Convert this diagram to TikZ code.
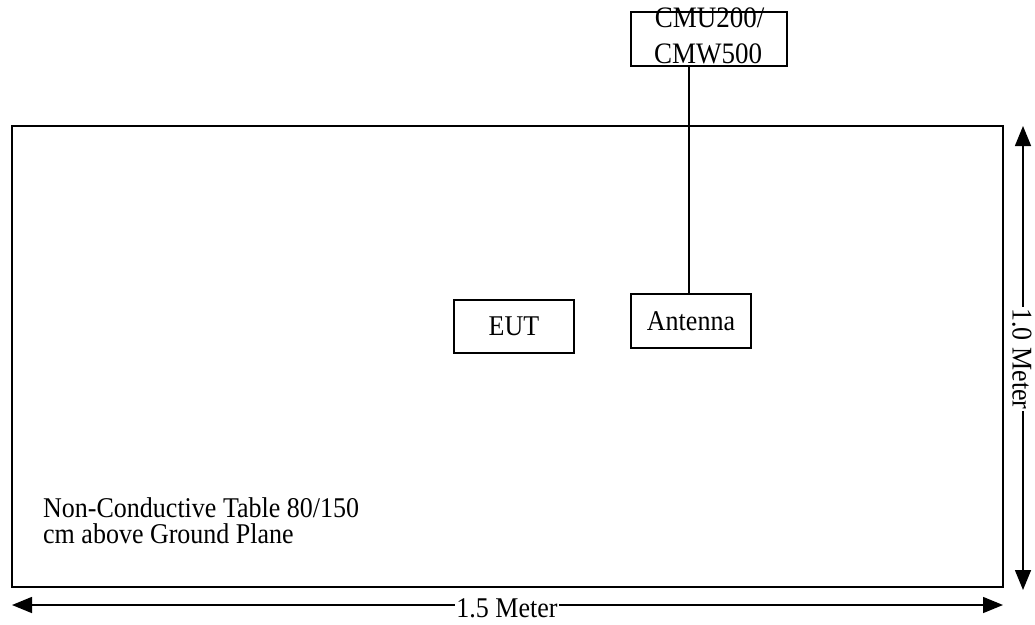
\documentclass[tikz,border=0pt]{standalone}
\usepackage{fontspec}
\usepackage{graphicx}
\setmainfont{Liberation Serif}
\usetikzlibrary{arrows.meta}
\newcommand\vs[1]{\scalebox{1}[1.1]{#1}}
\begin{document}
\begin{tikzpicture}[x=1pt,y=-1pt,
  box/.style={draw, line width=1.2pt, inner sep=0pt},
  txt/.style={font=\fontsize{26}{28}\selectfont, inner sep=0pt},
  dim/.style={line width=1.5pt, {Triangle[length=20pt,width=16pt]}-{Triangle[length=20pt,width=16pt]}},
  dimlabel/.style={fill=white, inner sep=1pt, font=\fontsize{26}{28}\selectfont}]
\useasboundingbox (0,0) rectangle (1035,624);
\node[draw, line width=2.8pt, minimum width=991pt, minimum height=461pt] (table) at (507.5,356.5) {};
\node[box, minimum width=156pt, minimum height=54pt] (cmu) at (709,39) {};
\node[txt, font=\fontsize{27}{28}\selectfont, anchor=base] (cmu1) at (709.5,27) {\vs{CMU200/}};
\node[txt, font=\fontsize{27}{28}\selectfont, anchor=base] (cmu2) at (708,63) {\vs{CMW500}};
\node[box, txt, minimum width=120pt, minimum height=54pt] (ant) at (691,321) {\vs{Antenna}};
\node[box, txt, minimum width=120pt, minimum height=53pt] (eut) at (514,326.5) {\vs{EUT}};
\draw[line width=1.2pt] (ant.north -| 689,0) -- (cmu.south -| 689,0);
\node[txt, anchor=base west] (note1) at (43,517) {\vs{Non-Conductive Table 80/150}};
\node[txt, anchor=base west] (note2) at (43,543) {\vs{cm above Ground Plane}};
\coordinate (bl) at (12,605);
\coordinate (br) at (1003,605);
\draw[dim] (bl) -- (br);
\node[dimlabel, anchor=base] (wl) at (507,617) {\vs{1.5 Meter}};
\coordinate (rt) at (1023,126);
\coordinate (rb) at (1023,590);
\draw[dim] (rt) -- (rb);
\node[dimlabel, rotate=-90] (hl) at (1022,359) {\vs{1.0 Meter}};
\end{tikzpicture}
\end{document}
